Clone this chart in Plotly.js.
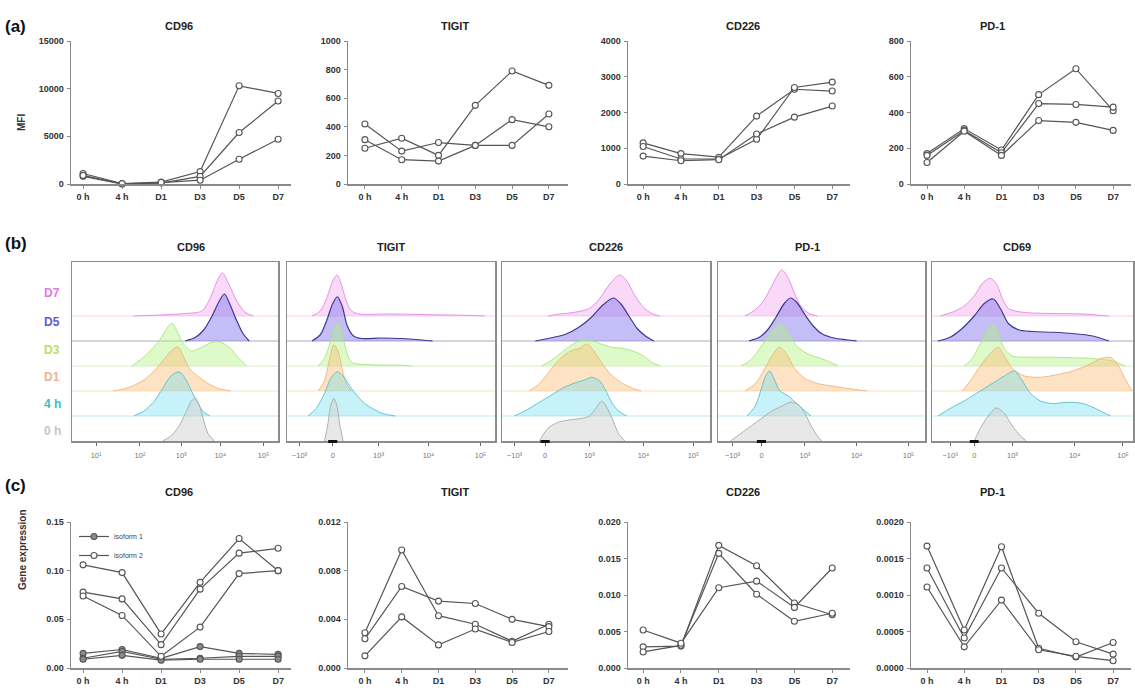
<!DOCTYPE html>
<html><head><meta charset="utf-8">
<script src="https://cdn.plot.ly/plotly-3.0.1.min.js"></script>
<style>html,body{margin:0;padding:0;background:#fff}#chart{width:1135px;height:688px}</style>
</head><body><div id="chart"></div>
<script>
// ---------- categories ----------
const times = ['0 h', '4 h', 'D1', 'D3', 'D5', 'D7'];
const markersA = ['CD96', 'TIGIT', 'CD226', 'PD-1'];
const markersB = ['CD96', 'TIGIT', 'CD226', 'PD-1', 'CD69'];
const histRows = ['D7', 'D5', 'D3', 'D1', '4 h', '0 h'];

// ---------- (a) MFI ----------
const cd96_mfi_1 = [1100, 50, 200, 1300, 10300, 9500];
const cd96_mfi_2 = [800, 0, 100, 800, 5400, 8700];
const cd96_mfi_3 = [900, 20, 150, 400, 2600, 4700];
const tigit_mfi_1 = [250, 320, 200, 550, 790, 690];
const tigit_mfi_2 = [420, 230, 290, 270, 270, 490];
const tigit_mfi_3 = [310, 170, 160, 270, 450, 400];
const cd226_mfi_1 = [1150, 850, 750, 1900, 2650, 2600];
const cd226_mfi_2 = [1050, 700, 700, 1250, 2700, 2850];
const cd226_mfi_3 = [780, 650, 680, 1400, 1870, 2180];
const pd1_mfi_1 = [170, 310, 190, 500, 645, 410];
const pd1_mfi_2 = [160, 300, 175, 450, 445, 430];
const pd1_mfi_3 = [120, 295, 160, 355, 345, 300];
const mfiTicks_CD96 = [0, 5000, 10000, 15000];
const mfiTicks_TIGIT = [0, 200, 400, 600, 800, 1000];
const mfiTicks_CD226 = [0, 1000, 2000, 3000, 4000];
const mfiTicks_PD1 = [0, 200, 400, 600, 800];

// ---------- (c) gene expression ----------
const cd96_iso2_a = [0.106, 0.098, 0.035, 0.088, 0.133, 0.100];
const cd96_iso2_b = [0.078, 0.071, 0.024, 0.081, 0.118, 0.123];
const cd96_iso2_c = [0.074, 0.054, 0.012, 0.042, 0.097, 0.100];
const cd96_iso1_a = [0.015, 0.019, 0.010, 0.022, 0.015, 0.014];
const cd96_iso1_b = [0.010, 0.017, 0.009, 0.010, 0.012, 0.012];
const cd96_iso1_c = [0.009, 0.013, 0.008, 0.009, 0.009, 0.009];
const tigit_ge_1 = [0.0029, 0.0097, 0.0043, 0.0036, 0.0022, 0.0036];
const tigit_ge_2 = [0.0024, 0.0067, 0.0055, 0.0053, 0.0040, 0.0034];
const tigit_ge_3 = [0.0010, 0.0042, 0.0019, 0.0032, 0.0021, 0.0030];
const cd226_ge_1 = [0.0029, 0.0030, 0.0168, 0.0140, 0.0089, 0.0073];
const cd226_ge_2 = [0.0022, 0.0031, 0.0157, 0.0101, 0.0064, 0.0075];
const cd226_ge_3 = [0.0052, 0.0034, 0.0110, 0.0119, 0.0083, 0.0137];
const pd1_ge_1 = [0.00167, 0.00052, 0.00166, 0.00027, 0.00015, 0.00035];
const pd1_ge_2 = [0.00137, 0.00041, 0.00137, 0.00075, 0.00036, 0.00019];
const pd1_ge_3 = [0.00111, 0.00029, 0.00093, 0.00025, 0.00016, 0.00010];
const geTicks_CD96 = [0, 0.05, 0.10, 0.15];
const geTicks_TIGIT = [0, 0.004, 0.008, 0.012];
const geTicks_CD226 = [0, 0.005, 0.010, 0.015, 0.020];
const geTicks_PD1 = [0, 0.0005, 0.0010, 0.0015, 0.0020];

// ---------- (b) histograms: [channel position (% of scale), relative count] ----------
const h_CD96_D7 = [[30,0],[45,0.05],[55,0.1],[63,0.2],[67,0.7],[71,1.5],[73,1.72],[76,1.3],[80,0.6],[84,0.15],[88,0]];
const h_CD96_D5 = [[55,0],[60,0.15],[64,0.45],[68,1.0],[71.5,1.6],[74,1.88],[77,1.4],[80,0.8],[83,0.3],[86,0]];
const h_CD96_D3 = [[29,0],[34,0.3],[39,0.7],[43,1.1],[46,1.5],[48.5,1.72],[51,1.4],[54,0.9],[58,0.6],[63,0.75],[68,0.95],[72,0.96],[77,0.7],[81,0.3],[85,0]];
const h_CD96_D1 = [[20,0],[28,0.15],[35,0.45],[41,0.9],[46,1.4],[49.5,1.7],[51.5,1.76],[54,1.4],[57,0.9],[61,0.6],[66,0.3],[71,0.1],[77,0]];
const h_CD96_4h = [[30,0],[35,0.2],[40,0.6],[44,1.1],[48,1.6],[52,1.77],[55,1.5],[58,1.0],[61,0.5],[64,0.15],[67,0]];
const h_CD96_0h = [[44,0],[48,0.2],[52,0.6],[55,1.1],[58,1.6],[60,1.72],[62,1.4],[64,0.8],[66,0.3],[69,0]];

const h_TIGIT_D7 = [[12,0],[16,0.2],[19,0.7],[22,1.4],[24,1.64],[26,1.3],[28.5,0.6],[31,0.2],[35,0.08],[50,0.08],[70,0.05],[90,0.02],[95,0]];
const h_TIGIT_D5 = [[12,0],[16,0.25],[19,0.8],[22,1.5],[24.2,1.77],[26.5,1.4],[29,0.6],[32,0.2],[36,0.1],[45,0.12],[55,0.1],[65,0.04],[70,0]];
const h_TIGIT_D3 = [[15,0],[18,0.3],[21,1.0],[23,1.6],[24.5,1.75],[26.5,1.3],[28.5,0.6],[31,0.15],[40,0.05],[55,0.03],[60,0]];
const h_TIGIT_D1 = [[15,0],[18,0.4],[20.5,1.3],[22.5,1.85],[24.5,1.6],[26.5,0.9],[28.5,0.3],[31,0]];
const h_TIGIT_4h = [[10,0],[14,0.3],[18,0.9],[21,1.5],[24,1.77],[27,1.6],[31,1.1],[36,0.6],[41,0.3],[46,0.1],[52,0]];
const h_TIGIT_0h = [[18,0],[19.5,0.6],[21,1.4],[22.5,1.7],[24,1.4],[25.5,0.6],[27,0]];

const h_CD226_D7 = [[22,0],[28,0.08],[35,0.15],[42,0.3],[47,0.7],[52,1.3],[56.5,1.64],[60,1.4],[64,0.8],[68,0.35],[72,0.1],[76,0]];
const h_CD226_D5 = [[16,0],[22,0.1],[30,0.25],[37,0.55],[43,0.95],[48,1.4],[53.5,1.72],[57,1.5],[61,1.0],[65,0.5],[69,0.2],[73,0]];
const h_CD226_D3 = [[19,0],[25,0.3],[31,0.7],[37,1.0],[42,1.05],[47,0.9],[53,0.75],[58,0.7],[63,0.6],[68,0.4],[72,0.15],[76,0]];
const h_CD226_D1 = [[13,0],[18,0.3],[23,0.8],[28,1.3],[33,1.6],[37,1.7],[41,1.88],[45,1.5],[49,1.0],[53,0.6],[58,0.3],[63,0.1],[67,0]];
const h_CD226_4h = [[6,0],[12,0.25],[18,0.55],[24,0.85],[30,1.15],[36,1.35],[40,1.45],[43,1.55],[47,1.4],[50,1.0],[53,0.5],[56,0.2],[60,0]];
const h_CD226_0h = [[18,0],[22,0.5],[27,0.75],[33,0.85],[38,0.9],[42,1.0],[45,1.3],[48,1.6],[50,1.4],[53,0.9],[56,0.3],[59,0]];

const h_PD1_D7 = [[13,0],[18,0.25],[22,0.6],[26,1.2],[30.8,1.84],[34,1.5],[37,0.9],[40,0.4],[44,0.1],[48,0]];
const h_PD1_D5 = [[15,0],[20,0.15],[24,0.45],[28,0.95],[32,1.5],[35,1.72],[38,1.55],[42,1.05],[46,0.6],[50,0.3],[56,0.12],[62,0.05],[67,0]];
const h_PD1_D3 = [[11,0],[16,0.25],[21,0.8],[26,1.4],[30,1.72],[34,1.3],[38,0.8],[43,0.5],[48,0.35],[53,0.2],[58,0]];
const h_PD1_D1 = [[13,0],[18,0.3],[22,0.8],[26,1.4],[29.6,1.75],[33,1.5],[37,0.9],[42,0.5],[48,0.3],[55,0.2],[63,0.1],[72,0]];
const h_PD1_4h = [[14,0],[18,0.4],[21,1.1],[23,1.6],[25,1.8],[27,1.5],[30,1.0],[34,0.8],[38,0.5],[42,0.2],[45,0]];
const h_PD1_0h = [[6,0],[11,0.3],[16,0.6],[21,0.9],[26,1.2],[31,1.4],[35,1.55],[39,1.45],[42,1.1],[45,0.6],[48,0.2],[50,0]];

const h_CD69_D7 = [[4,0],[10,0.15],[16,0.4],[21,0.8],[25,1.3],[29,1.51],[32,1.3],[35,0.7],[38,0.3],[45,0.15],[60,0.1],[75,0.08],[88,0]];
const h_CD69_D5 = [[3,0],[9,0.15],[15,0.5],[21,1.0],[26,1.5],[30.5,1.68],[34,1.3],[38,0.7],[43,0.45],[50,0.38],[60,0.35],[70,0.3],[80,0.2],[88,0]];
const h_CD69_D3 = [[16,0],[20,0.3],[24,0.9],[28,1.5],[30.5,1.65],[33,1.3],[36,0.7],[40,0.4],[50,0.35],[60,0.35],[70,0.33],[80,0.3],[90,0.2],[96,0]];
const h_CD69_D1 = [[15,0],[19,0.4],[24,1.0],[29,1.5],[33,1.75],[36,1.4],[40,0.9],[46,0.6],[54,0.55],[62,0.65],[70,0.8],[78,1.05],[84,1.3],[88.6,1.35],[92,1.1],[96,0.5],[99.5,0]];
const h_CD69_4h = [[3,0],[9,0.3],[16,0.6],[23,0.95],[30,1.3],[36,1.6],[41,1.8],[45,1.4],[49,0.9],[54,0.6],[60,0.5],[68,0.55],[75,0.5],[80,0.35],[85,0.15],[89,0]];
const h_CD69_0h = [[21,0],[24,0.5],[28,1.0],[32,1.32],[36,1.1],[40,0.6],[44,0.2],[47,0]];

// histogram axis tick positions (% of scale) and labels
const ticksPos_CD96 = [11.7, 33, 53, 72, 93];
const ticksTxt_CD96 = ['10\u00b9', '10\u00b2', '10\u00b3', '10\u2074', '10\u2075'];
const ticksPos_TIGIT = [6, 22, 44, 68, 93];
const ticksPos_CD226 = [6, 20.7, 42, 68, 92];
const ticksPos_PD1 = [7, 21, 42, 67, 92];
const ticksPos_CD69 = [9, 21, 40, 71, 95];
const ticksTxt_biex = ['\u221210\u00b3', '0', '10\u00b3', '10\u2074', '10\u2075'];

// ---------- assembly ----------
const W = 1135, H = 688;
const X = p => p / W, Y = p => 1 - p / H;
const FONT = 'Arial, "Liberation Sans", sans-serif';

const mfiSeries = [
  [cd96_mfi_1, cd96_mfi_2, cd96_mfi_3],
  [tigit_mfi_1, tigit_mfi_2, tigit_mfi_3],
  [cd226_mfi_1, cd226_mfi_2, cd226_mfi_3],
  [pd1_mfi_1, pd1_mfi_2, pd1_mfi_3]
];
const mfiTicks = [mfiTicks_CD96, mfiTicks_TIGIT, mfiTicks_CD226, mfiTicks_PD1];
const geSeries = [
  null,
  [tigit_ge_1, tigit_ge_2, tigit_ge_3],
  [cd226_ge_1, cd226_ge_2, cd226_ge_3],
  [pd1_ge_1, pd1_ge_2, pd1_ge_3]
];
const geTicks = [geTicks_CD96, geTicks_TIGIT, geTicks_CD226, geTicks_PD1];
const geFmt = ['.2f', '.3f', '.3f', '.4f'];

// panel frames (pixels)
const lineCols = [[71, 291, -0.31, 5.33], [348, 568, -0.46, 5.52], [628, 850, -0.40, 5.47], [911, 1131, -0.43, 5.48]];
const histCols = [[72, 278], [287, 495], [502, 710], [718, 925], [932, 1133]];
const histData = {
  'CD96': [h_CD96_D7, h_CD96_D5, h_CD96_D3, h_CD96_D1, h_CD96_4h, h_CD96_0h],
  'TIGIT': [h_TIGIT_D7, h_TIGIT_D5, h_TIGIT_D3, h_TIGIT_D1, h_TIGIT_4h, h_TIGIT_0h],
  'CD226': [h_CD226_D7, h_CD226_D5, h_CD226_D3, h_CD226_D1, h_CD226_4h, h_CD226_0h],
  'PD-1': [h_PD1_D7, h_PD1_D5, h_PD1_D3, h_PD1_D1, h_PD1_4h, h_PD1_0h],
  'CD69': [h_CD69_D7, h_CD69_D5, h_CD69_D3, h_CD69_D1, h_CD69_4h, h_CD69_0h]
};
const histTickPos = [ticksPos_CD96, ticksPos_TIGIT, ticksPos_CD226, ticksPos_PD1, ticksPos_CD69];
const histTickTxt = [ticksTxt_CD96, ticksTxt_biex, ticksTxt_biex, ticksTxt_biex, ticksTxt_biex];

const rowLine = ['#e08ae0', '#3c3a90', '#a8e47c', '#f0b478', '#55bfcc', '#a8a8a8'];
const rowFill = ['rgba(242,165,238,0.42)', 'rgba(140,125,238,0.5)', 'rgba(176,244,125,0.42)', 'rgba(250,190,125,0.45)', 'rgba(110,222,240,0.38)', 'rgba(210,210,210,0.5)'];
const rowBase = ['rgba(236,170,226,0.55)', 'rgba(90,90,130,0.5)', 'rgba(180,232,145,0.55)', 'rgba(242,200,165,0.55)', 'rgba(140,215,228,0.55)', 'rgba(190,190,190,0.55)'];
const rowLabelColor = ['#e07ae0', '#5b5bd6', '#b8e064', '#e9b68a', '#33c3c3', '#c6c6c6'];

const traces = [];
const layout = {
  width: W, height: H, margin: {l: 0, r: 0, t: 0, b: 0},
  paper_bgcolor: '#fff', plot_bgcolor: 'rgba(0,0,0,0)',
  font: {family: FONT, color: '#333', size: 9},
  showlegend: true,
  legend: {x: X(74), y: Y(522), xanchor: 'left', yanchor: 'top', bgcolor: 'rgba(0,0,0,0)',
           font: {size: 7, color: '#444', family: FONT}, tracegroupgap: 0, itemwidth: 30},
  annotations: [], shapes: []
};

const axLine = {showline: true, linecolor: '#8a8a8a', linewidth: 1.5, ticks: 'outside', ticklen: 3,
  tickcolor: '#8a8a8a', tickwidth: 1, showgrid: false, zeroline: false, fixedrange: true};

function lineAxes(idx, col, top, bottom, yTicks, fmt) {
  const xa = Object.assign({}, axLine, {
    domain: [X(col[0]), X(col[1])], range: [col[2], col[3]], type: 'category',
    anchor: 'y' + idx, tickfont: {size: 9, color: '#333', family: FONT, weight: 'bold'}, ticklabelstandoff: 1
  });
  const ya = Object.assign({}, axLine, {
    domain: [Y(bottom), Y(top)], range: [0, yTicks[yTicks.length - 1]], tickvals: yTicks,
    tickformat: fmt || 'd',
    anchor: 'x' + idx, tickfont: {size: 9, color: '#333', family: FONT, weight: 'bold'}, ticklabelstandoff: 1
  });
  layout['xaxis' + (idx === 1 ? '' : idx)] = xa;
  layout['yaxis' + (idx === 1 ? '' : idx)] = ya;
}

function addSeries(idx, ys, opts) {
  opts = opts || {};
  traces.push({
    type: 'scatter', mode: 'lines+markers', x: times, y: ys,
    xaxis: 'x' + (idx === 1 ? '' : idx), yaxis: 'y' + (idx === 1 ? '' : idx),
    line: {color: '#555', width: 1.2},
    marker: {symbol: 'circle', size: 6, color: opts.fill || '#fff', line: {color: '#555', width: 1.1}},
    cliponaxis: false, hoverinfo: 'skip',
    showlegend: !!opts.name, name: opts.name || '', legendgroup: opts.name || undefined
  });
}

function title(text, xpx, ypx, size) {
  layout.annotations.push({text: text, x: X(xpx), y: Y(ypx), xref: 'paper', yref: 'paper',
    showarrow: false, font: {size: size || 11, color: '#222', family: FONT, weight: 'bold'}});
}

// (a)
const titleXA = [163, 455, 743, 1007];
for (let i = 0; i < 4; i++) {
  const idx = i + 1;
  lineAxes(idx, lineCols[i], 41, 184, mfiTicks[i]);
  mfiSeries[i].forEach(s => addSeries(idx, s));
  title(markersA[i], titleXA[i], 18);
}
// (c)
for (let i = 0; i < 4; i++) {
  const idx = i + 5;
  lineAxes(idx, lineCols[i], 522, 668, geTicks[i], geFmt[i]);
  if (i === 0) {
    addSeries(idx, cd96_iso1_a, {fill: '#8a8a8a', name: 'isoform 1'});
    addSeries(idx, cd96_iso1_b, {fill: '#8a8a8a'});
    addSeries(idx, cd96_iso1_c, {fill: '#8a8a8a'});
    addSeries(idx, cd96_iso2_a, {name: 'isoform 2'});
    addSeries(idx, cd96_iso2_b);
    addSeries(idx, cd96_iso2_c);
  } else {
    geSeries[i].forEach(s => addSeries(idx, s));
  }
  title(markersA[i], titleXA[i], 500);
}

// (b)
const HIST_TOP = 262, HIST_BOT = 441, ROW_PX = 25;
const yMax = (HIST_BOT - HIST_TOP) / ROW_PX;
for (let p = 0; p < 5; p++) {
  const idx = p + 9;
  const col = histCols[p];
  layout['xaxis' + idx] = {
    domain: [X(col[0]), X(col[1])], range: [0, 100], anchor: 'y' + idx,
    showline: true, mirror: true, linecolor: '#8c8c8c', linewidth: 1.5,
    ticks: 'outside', ticklen: 3, tickcolor: '#666', tickvals: histTickPos[p], ticktext: histTickTxt[p],
    tickfont: {size: 7.5, color: '#777', family: FONT}, ticklabelstandoff: 3,
    showgrid: false, zeroline: false, fixedrange: true
  };
  layout['yaxis' + idx] = {
    domain: [Y(HIST_BOT), Y(HIST_TOP)], range: [0, yMax], anchor: 'x' + idx,
    showline: true, mirror: true, linecolor: '#8c8c8c', linewidth: 1.5,
    showticklabels: false, ticks: '', showgrid: false, zeroline: false, fixedrange: true
  };
  const rows = histData[markersB[p]];
  rows.forEach((r, k) => {
    const base = histRows.length - 1 - k;
    if (base === 0) return;
    traces.push({type: 'scatter', mode: 'lines', x: [0, 100], y: [base, base],
      xaxis: 'x' + idx, yaxis: 'y' + idx, line: {color: rowBase[k], width: 1},
      hoverinfo: 'skip', showlegend: false});
  });
  rows.forEach((r, k) => {
    const base = histRows.length - 1 - k;
    traces.push({type: 'scatter', mode: 'lines',
      x: r.map(d => d[0]), y: r.map(d => base + d[1]),
      xaxis: 'x' + idx, yaxis: 'y' + idx, fill: 'toself', fillcolor: rowFill[k],
      line: {color: rowLine[k], width: k === 1 ? 1.2 : 0.9, shape: 'spline', smoothing: 0.8},
      hoverinfo: 'skip', showlegend: false});
  });
  if (p > 0) {
    const z = histTickPos[p][1];
    layout.shapes.push({type: 'rect', xref: 'x' + idx, yref: 'paper',
      x0: z - 2.2, x1: z + 2.2, y0: Y(HIST_BOT + 2), y1: Y(HIST_BOT - 1), fillcolor: '#111', line: {width: 0}});
  }
  const cx = (col[0] + col[1]) / 2;
  title(markersB[p], cx, 247);
}
// row labels
const rowLabelY = [293, 322, 350, 377, 404, 431];
histRows.forEach((r, k) => {
  layout.annotations.push({text: r, x: X(42), y: Y(rowLabelY[k]), xref: 'paper', yref: 'paper',
    showarrow: false, font: {size: 12, color: rowLabelColor[k], family: FONT, weight: 'bold'}});
});

// panel letters
[['(a)', 15], ['(b)', 243], ['(c)', 497]].forEach(([t, py]) => {
  layout.annotations.push({text: t, x: X(3), y: Y(py), xref: 'paper', yref: 'paper',
    xanchor: 'left', showarrow: false, font: {size: 17, color: '#111', family: FONT, weight: 'bold'}});
});
// y titles
layout.annotations.push({text: 'MFI', x: X(14), y: Y(112), xref: 'paper', yref: 'paper', textangle: -90,
  showarrow: false, font: {size: 10, color: '#333', family: FONT, weight: 'bold'}});
layout.annotations.push({text: 'Gene expression', x: X(15), y: Y(592), xref: 'paper', yref: 'paper', textangle: -90,
  showarrow: false, font: {size: 10, color: '#333', family: FONT, weight: 'bold'}});

Plotly.newPlot('chart', traces, layout, {staticPlot: true, displayModeBar: false});
</script></body></html>
